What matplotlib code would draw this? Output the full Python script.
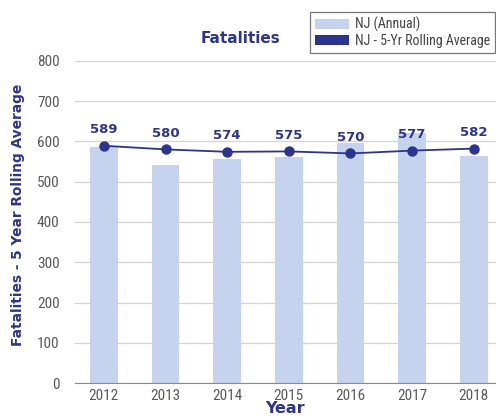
import matplotlib
matplotlib.use("Agg")
import matplotlib.pyplot as plt
from matplotlib.patches import Patch

# NJ traffic fatalities, annual counts and 5-year rolling average
years = ["2012", "2013", "2014", "2015", "2016", "2017", "2018"]
annual = [587, 542, 557, 561, 597, 621, 563]
rolling_avg = [589, 580, 574, 575, 570, 577, 582]

BAR_COLOR = "#c6d3ee"
NAVY = "#2b358f"
TICK_GREY = "#5a5a5a"
NARROW = ["Roboto Condensed", "DejaVu Sans"]

plt.rcParams["font.family"] = ["DejaVu Sans"]

fig = plt.figure(figsize=(4.96, 4.16), dpi=100)
ax = fig.add_axes([0.151, 0.079, 0.849, 0.775])

x = list(range(len(years)))
ax.bar(x, annual, width=0.45, color=BAR_COLOR, zorder=2)
ax.plot(x, rolling_avg, color=NAVY, lw=1.3, marker="o", ms=6.5, zorder=3)
for xi, v in zip(x, rolling_avg):
    ax.annotate(str(v), (xi, v), xytext=(0, 7), textcoords="offset points",
                ha="center", va="bottom", color=NAVY, fontsize=9.5,
                fontweight="bold")

ax.set_xlim(-0.47, 6.36)
ax.set_ylim(0, 800)
ax.set_yticks(range(0, 801, 100))
ax.set_xticks(x)
ax.set_xticklabels(years)
ax.grid(axis="y", color="#d4d4d4", lw=0.9, zorder=0)
ax.set_axisbelow(True)
for side in ["top", "right", "left"]:
    ax.spines[side].set_visible(False)
ax.spines["bottom"].set_color("#8a8a8a")
ax.tick_params(axis="both", length=0, colors=TICK_GREY, labelsize=11)
for lbl in ax.get_xticklabels() + ax.get_yticklabels():
    lbl.set_fontfamily(NARROW)
ax.tick_params(axis="y", pad=11)
ax.tick_params(axis="x", pad=4)

ax.set_xlabel("Year", color=NAVY, fontsize=11.5, fontweight="bold", labelpad=-1)
fig.text(0.036, 0.484, "Fatalities - 5 Year Rolling Average", rotation=90,
         ha="center", va="center", color=NAVY, fontsize=9.9, fontweight="bold")
fig.text(0.485, 0.908, "Fatalities", ha="center", va="center", color=NAVY,
         fontsize=11, fontweight="bold")

handles = [Patch(facecolor=BAR_COLOR, edgecolor="none"),
           Patch(facecolor=NAVY, edgecolor="none")]
leg = fig.legend(handles, ["NJ (Annual)", "NJ - 5-Yr Rolling Average"],
                 loc="upper right", bbox_to_anchor=(0.998, 0.971),
                 borderaxespad=0, frameon=True, fancybox=False,
                 handlelength=2.5, handleheight=0.8, handletextpad=0.4,
                 labelspacing=0.1, borderpad=0.35,
                 prop={"family": NARROW, "size": 10})
leg.get_frame().set_edgecolor("#555555")
leg.get_frame().set_linewidth(0.9)
for t in leg.get_texts():
    t.set_color("#444444")

fig.savefig("out.png", dpi=100)
